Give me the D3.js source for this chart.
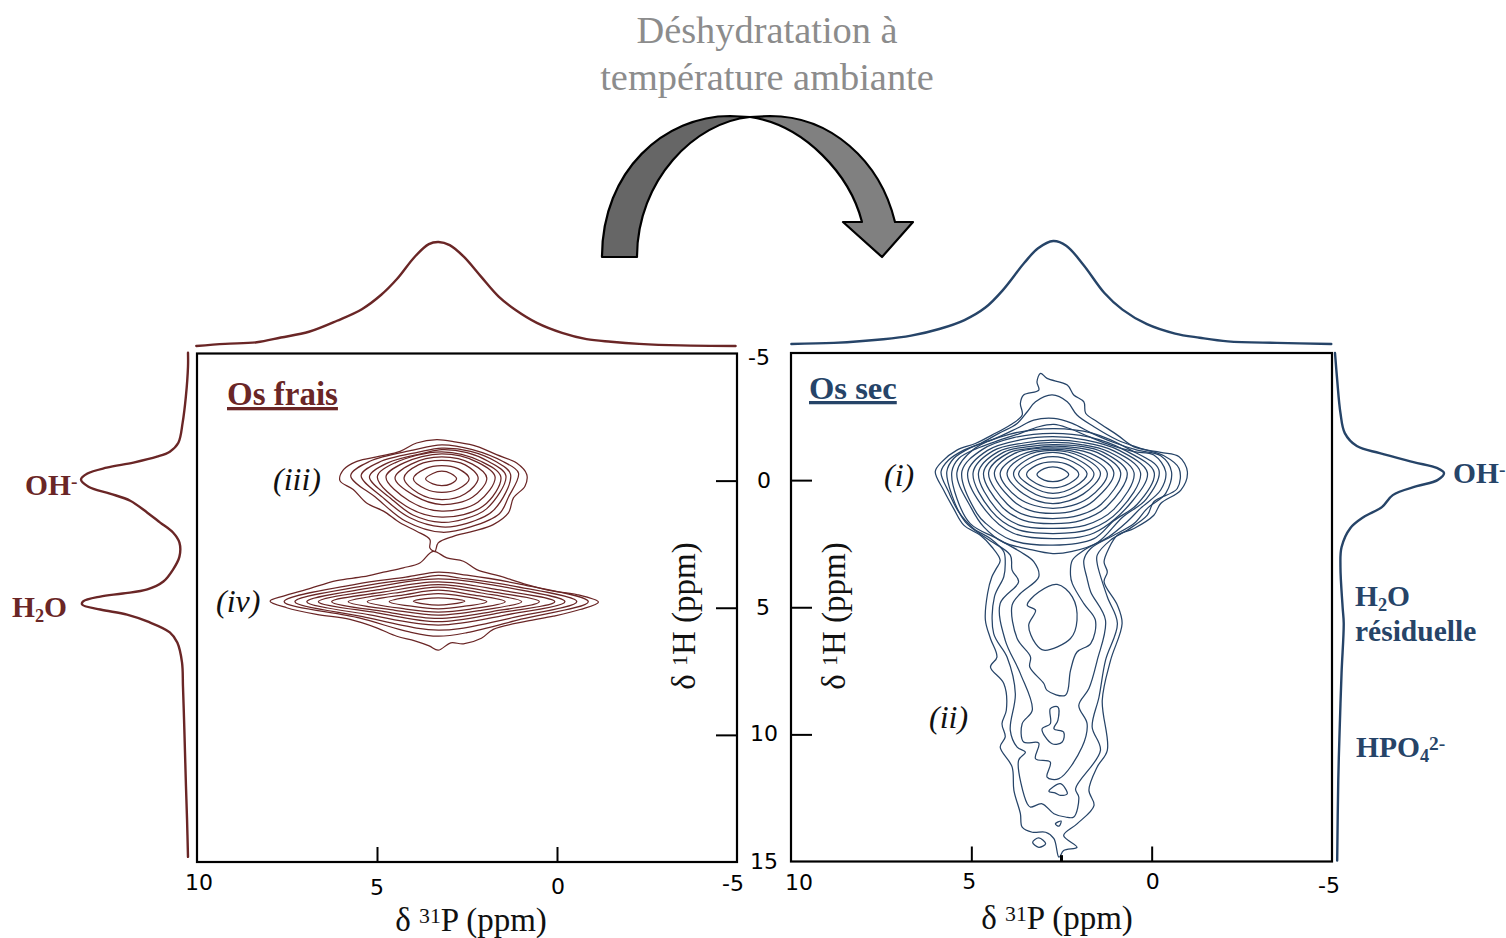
<!DOCTYPE html>
<html lang="fr"><head><meta charset="utf-8">
<script src="https://cdnjs.cloudflare.com/ajax/libs/d3/7.8.5/d3.min.js"></script>
<style>html,body{margin:0;padding:0;background:#fff}svg{display:block}text{font-family:"Liberation Serif",serif}.tl{font-family:"DejaVu Sans",sans-serif;font-size:22px;fill:#000;text-anchor:middle}</style>
</head><body><svg id="c" width="1506" height="938" viewBox="0 0 1506 938"></svg>
<script>
const xTicks=[10,5,0,-5];
const yTicks=[-5,0,5,10,15];

// Projections
const fraisTopP=[10.02,9.22,8.34,7.67,6.89,6.11,5.42,4.89,4.44,3.95,3.56,3.29,2.98,2.59,2.11,1.62,1.14,.56,-.14,-.82,-1.5,-2.28,-3.44,-4.96];
const fraisTopI=[.01,.03,.045,.09,.145,.25,.36,.495,.65,.86,.98,1,.97,.86,.67,.48,.35,.23,.135,.075,.05,.03,.015,.01];
const secTopP=[9.99,8.81,7.44,6.67,5.89,5.19,4.61,4.12,3.53,3.15,2.73,2.37,1.89,1.31,.81,.13,-.65,-1.33,-2.11,-3.47,-4.98];
const secTopI=[.01,.02,.055,.09,.154,.24,.36,.53,.79,.93,1,.955,.77,.5,.34,.2,.11,.07,.035,.02,.01];
const fraisSideH=[-5.03,-4.48,-3.3,-2.28,-1.49,-1.14,-.94,-.71,-.51,-.28,-.04,.24,.51,.79,1.26,1.65,2.04,2.44,2.99,3.5,3.97,4.28,4.44,4.56,4.75,4.87,5.07,5.27,5.54,5.97,6.37,7.15,8.09,9.39,10.69,12.02,13.32,14.8];
const fraisSideI=[0,0,.02,.05,.09,.17,.29,.51,.76,.94,1,.93,.73,.54,.38,.26,.14,.08,.08,.14,.23,.38,.61,.82,.98,.99,.82,.57,.38,.17,.1,.056,.047,.037,.028,.019,.009,0];
const secSideH=[-5,-3.94,-2.64,-1.85,-1.34,-1.06,-.71,-.47,-.28,0,.24,.59,1.06,1.46,1.89,2.64,3.43,5,5.63,7.6,10.2,11.8,14.96];
const secSideI=[0,.02,.05,.09,.2,.41,.72,.94,1,.94,.75,.53,.43,.26,.14,.06,.05,.07,.08,.06,.04,.03,.02];

// Contours, Os frais: [delta 31P, delta 1H]
const contoursIII=[
[[3.65,-.07],[3.45,-.28],[3.2,-.37],[2.95,-.28],[2.79,-.07],[2.95,.13],[3.2,.2],[3.45,.13]],
[[3.99,-.07],[3.65,-.47],[3.2,-.59],[2.75,-.47],[2.44,-.07],[2.75,.33],[3.2,.46],[3.65,.33]],
[[4.25,-.1],[3.85,-.62],[3.2,-.8],[2.55,-.62],[2.19,-.1],[2.55,.52],[3.2,.75],[3.85,.5]],
[[4.5,-.1],[4.05,-.65],[3.2,-.93],[2.35,-.65],[1.95,-.1],[2.35,.65],[3.2,.94],[3.95,.6]],
[[4.75,-.15],[4.25,-.7],[3.2,-1.05],[2.2,-.72],[1.72,-.15],[2.2,.85],[3.2,1.2],[4.1,.8]],
[[4.99,-.15],[4.5,-.7],[3.2,-1.13],[2.1,-.75],[1.56,-.15],[2.05,1],[3.2,1.44],[4.2,1]],
[[5.21,-.15],[4.7,-.7],[3.7,-1.08],[3.2,-1.22],[2.5,-1.1],[1.9,-.75],[1.42,-.2],[1.95,1.1],[2.6,1.52],[3.2,1.64],[4,1.35],[4.6,.72]],
[[5.44,-.2],[4.95,-.72],[3.85,-1.12],[3.2,-1.28],[2.4,-1.15],[1.7,-.75],[1.29,-.25],[1.75,1.15],[2.5,1.68],[3.2,1.82],[4.1,1.45],[4.85,.65]],
[[5.73,-.2],[5.2,-.76],[4,-1.2],[3.2,-1.41],[2.35,-1.22],[1.5,-.75],[1.07,-.3],[1.35,.65],[1.6,1.3],[2.4,1.82],[3.2,2.03],[4.2,1.6],[5,.7]],
[[6.03,0],[5.93,-.43],[5.56,-.76],[4.92,-.96],[4.36,-1.15],[3.9,-1.48],[3.34,-1.61],[2.79,-1.51],[2.23,-1.35],[1.68,-1.02],[1.12,-.69],[.84,-.24],[.89,.22],[1.21,.68],[1.35,1.27],[1.77,1.73],[2.32,1.99],[2.88,2.19],[3.3,2.45],[3.39,2.78],[3.53,2.65],[3.53,2.32],[3.9,1.99],[4.36,1.66],[4.82,1.2],[5.29,.88],[5.66,.35]]
];
const contoursIV=[
[[3.99,4.74],[3.65,4.64],[3.3,4.61],[2.95,4.64],[2.56,4.74],[2.95,4.86],[3.3,4.9],[3.65,4.86]],
[[4.66,4.76],[4,4.55],[3.3,4.44],[2.6,4.55],[1.95,4.76],[2.6,4.95],[3.3,5.04],[4,4.95]],
[[5.27,4.76],[4.2,4.48],[3.3,4.31],[2.4,4.48],[1.44,4.76],[2.4,5.05],[3.3,5.17],[4.2,5.05]],
[[5.8,4.76],[4.5,4.42],[3.3,4.19],[2.1,4.42],[.98,4.76],[2.1,5.1],[3.3,5.29],[4.5,5.1]],
[[6.26,4.76],[4.8,4.38],[3.3,4.09],[1.8,4.38],[.49,4.76],[1.8,5.15],[3.3,5.42],[4.8,5.15]],
[[6.63,4.76],[5,4.3],[3.3,3.98],[1.6,4.3],[.06,4.76],[1.6,5.2],[3.3,5.55],[5,5.2]],
[[6.95,4.76],[5.2,4.22],[3.3,3.86],[1.4,4.2],[-.22,4.76],[1.4,5.28],[3.3,5.68],[5.2,5.28]],
[[7.28,4.76],[5.4,4.15],[3.9,3.85],[3.3,3.73],[2.7,3.83],[1.2,4.15],[-.55,4.76],[1.2,5.38],[2.7,5.82],[3.3,5.88],[3.9,5.8],[5.4,5.35]],
[[7.58,4.76],[5.6,4.08],[4.2,3.8],[3.3,3.6],[2.5,3.72],[1,4.08],[-.87,4.76],[1,5.45],[2.5,5.98],[3.3,6.12],[4.1,5.95],[5.5,5.4]],
[[7.97,4.74],[7.6,4.54],[6.95,4.28],[6.12,3.93],[5.38,3.78],[4.82,3.6],[4.27,3.43],[3.81,3.24],[3.44,2.78],[3.06,3.04],[2.6,3.17],[2.23,3.5],[1.58,3.76],[.84,4.09],[.1,4.35],[-.55,4.48],[-1.15,4.78],[-.64,5.07],[.1,5.33],[.84,5.53],[1.77,5.85],[2.1,6.2],[2.6,6.42],[2.95,6.38],[3.3,6.67],[3.55,6.5],[3.95,6.3],[4.45,6.12],[5.01,5.79],[5.75,5.46],[6.68,5.26],[7.51,5]]
];

// Contours, Os sec: [delta 31P, delta 1H]
const contoursI=[
[[3.18,-.22],[2.98,-.45],[2.74,-.52],[2.5,-.45],[2.3,-.22],[2.5,0],[2.74,.06],[2.98,0]],
[[3.47,-.22],[3.2,-.58],[2.74,-.72],[2.28,-.58],[2.02,-.22],[2.28,.13],[2.74,.3],[3.2,.13]],
[[3.69,-.25],[3.3,-.72],[2.74,-.92],[2.18,-.72],[1.79,-.25],[2.15,.27],[2.74,.52],[3.3,.27]],
[[3.83,-.25],[3.4,-.85],[2.74,-1.09],[2.1,-.85],[1.6,-.25],[2.05,.42],[2.74,.72],[3.4,.42]],
[[4.01,-.27],[3.55,-.92],[2.74,-1.17],[1.95,-.92],[1.42,-.27],[1.9,.55],[2.74,.92],[3.55,.55]],
[[4.2,-.27],[3.65,-.98],[2.74,-1.22],[1.85,-.98],[1.23,-.27],[1.75,.7],[2.74,1.11],[3.7,.7]],
[[4.36,-.3],[3.8,-1.05],[2.74,-1.27],[1.7,-1.05],[1.05,-.3],[1.6,.8],[2.1,1.18],[2.74,1.31],[3.4,1.18],[3.85,.8]],
[[4.52,-.3],[3.95,-1.08],[3.3,-1.26],[2.74,-1.34],[2.1,-1.28],[1.5,-1.08],[.86,-.3],[1.4,.95],[2,1.38],[2.74,1.51],[3.5,1.38],[4,.95]],
[[4.66,-.3],[4.1,-1.1],[3.4,-1.32],[2.74,-1.4],[2,-1.34],[1.35,-1.1],[.68,-.3],[1.25,1.05],[1.95,1.58],[2.74,1.71],[3.55,1.58],[4.15,1.05]],
[[4.8,-.3],[4.25,-1.12],[3.5,-1.38],[2.74,-1.48],[1.95,-1.4],[1.2,-1.12],[.49,-.3],[1.05,1.15],[1.85,1.78],[2.74,1.9],[3.65,1.78],[4.3,1.15]],
[[4.95,-.3],[4.4,-1.15],[3.55,-1.46],[2.74,-1.57],[1.9,-1.48],[1.05,-1.15],[.31,-.3],[.9,1.2],[1.7,1.93],[2.74,2.1],[3.75,1.93],[4.45,1.2]],
[[5.1,-.3],[4.55,-1.17],[3.65,-1.58],[2.74,-1.71],[1.85,-1.58],[.9,-1.17],[.12,-.3],[.55,.85],[1.6,2.08],[2.74,2.3],[3.85,2.08],[4.6,1.2]],
[[5.26,-.35],[4.7,-1.2],[3.8,-1.68],[2.74,-1.84],[1.75,-1.7],[.75,-1.18],[-.07,-.3],[.4,.95],[1.05,1.6],[1.6,2.3],[2.74,2.56],[3.9,2.35],[4.6,1.7],[4.85,1.3]],
[[5.4,-.3],[4.9,-1.25],[3.95,-1.8],[2.74,-2.03],[1.65,-1.85],[.6,-1.2],[-.2,-.4],[.15,.75],[.8,1.45],[1.5,2.45],[2.2,2.8],[2.74,2.89],[3.45,2.7],[4.1,2.45],[4.65,1.85],[5,1.1]]
];
const contoursII=[
[[5.54,-.33],[5.35,-.85],[4.89,-1.22],[4.2,-1.58],[3.64,-1.84],[3.13,-2.1],[2.71,-2.19],[2.3,-2.04],[1.74,-1.71],[1.14,-1.38],[.49,-1.12],[-.06,-.99],[-.39,-.33],[-.25,.39],[.31,1.11],[.68,1.64],[1.19,2.23],[1.88,2.76],[2.2,3.15],[2.25,3.74],[2.2,4.07],[1.88,4.86],[1.56,5.51],[1.69,6.43],[2.07,6.76],[2.25,7.48],[2.39,8.46],[2.9,8.27],[2.99,8],[3.38,7.35],[3.36,6.95],[3.73,6.23],[3.87,4.92],[3.64,4.46],[3.13,3.8],[3.27,3.21],[3.64,2.82],[4.29,2.3],[5.03,1.71],[5.4,.72]],
[[5.68,-.33],[5.49,-.85],[5.03,-1.27],[4.38,-1.61],[3.73,-2.04],[3.27,-2.36],[2.71,-2.43],[2.2,-2.23],[1.65,-1.84],[1.05,-1.48],[.4,-1.18],[-.25,-.96],[-.55,-.33],[-.39,.52],[.12,1.11],[.49,1.71],[1.05,2.17],[1.69,2.69],[1.88,3.15],[1.79,3.87],[1.69,4.4],[1.28,5.51],[1.51,7.09],[1.74,8.2],[2.02,8.86],[1.79,9.58],[1.93,10.5],[2.57,11.74],[2.9,11.68],[2.81,11.09],[3.22,10.96],[3.13,10.34],[3.55,10.3],[3.59,9.58],[3.31,9.05],[3.64,7.61],[4.06,6.3],[4.2,4.85],[3.69,4],[3.87,3.54],[3.92,2.95],[4.57,2.3],[5.17,1.64],[5.54,.59]],
[[5.84,-.33],[5.63,-.79],[5.21,-1.18],[4.75,-1.44],[4.24,-1.84],[3.73,-2.23],[3.45,-2.69],[3.22,-3.08],[2.76,-3.35],[2.34,-3.08],[2.07,-2.56],[1.6,-2.1],[.95,-1.58],[.31,-1.25],[-.34,-.96],[-.76,-.46],[-.71,.33],[-.06,.85],[.12,1.38],[.68,1.97],[1.14,2.36],[1.51,2.95],[1.51,3.28],[1.23,4.59],[.95,5.64],[1.28,7.09],[1.46,8.53],[1.65,9.71],[1.42,10.63],[2.11,12.14],[2.02,12.47],[2.16,13.25],[2.39,13.25],[2.71,13.12],[3.04,12.73],[3.36,12.86],[3.45,12.73],[3.69,11.02],[3.5,10.7],[3.73,10.5],[3.92,9.84],[3.78,8.4],[4.01,6.96],[4.38,6.04],[4.36,4.59],[4.1,3.8],[4.06,3.28],[4.1,2.82],[4.47,2.3],[4.94,1.9],[5.35,1.25],[5.63,.46]],
[[6,-.33],[5.82,-.72],[5.4,-1.18],[4.89,-1.44],[4.43,-1.77],[3.92,-2.17],[3.59,-2.56],[3.64,-3.02],[3.55,-3.35],[3.13,-3.54],[3.18,-3.87],[3.08,-4.2],[2.9,-4],[2.34,-3.74],[2.16,-3.35],[1.88,-3.08],[1.83,-2.63],[1.51,-2.3],[.95,-1.77],[.49,-1.31],[-.25,-1.09],[-.76,-.92],[-.99,-.33],[-.81,.39],[-.25,.92],[-.06,1.38],[.49,1.9],[.95,2.17],[1.19,2.69],[1.32,3.22],[1.23,3.61],[1.32,4],[.95,4.92],[.82,5.64],[1.14,7.09],[1.37,8.66],[1.23,10.63],[1.51,11.28],[1.74,12.2],[1.6,12.8],[2.07,13.52],[2.44,13.98],[2.07,14.44],[2.44,14.57],[2.57,14.83],[2.71,14.1],[2.94,13.85],[3.31,13.85],[3.59,13.65],[3.64,13.12],[3.82,12.2],[3.87,11.28],[4.2,10.5],[4.06,10.1],[4.15,9.58],[4.03,9.05],[4.1,8],[4.47,7.35],[4.29,6.96],[4.47,6.23],[4.61,5.51],[4.55,4.46],[4.43,3.8],[4.31,3.48],[4.2,3.15],[4.43,2.63],[4.75,2.17],[5.21,1.77],[5.49,1.12],[5.77,.39]],
[[3.45,4.92],[3.22,5.12],[3.41,5.71],[3.22,6.43],[2.99,6.69],[2.25,6.23],[2.07,5.51],[2.2,4.59],[2.62,4.1],[3.13,4.4]],
[[2.81,8.99],[2.6,8.92],[2.6,9.45],[2.71,9.78],[2.44,9.91],[2.48,10.3],[2.76,10.37],[3.04,9.78],[2.81,9.58]],
[[2.85,12.24],[2.53,11.94],[2.34,12.34],[2.53,12.4],[2.68,12.3]],
[[2.67,13.52],[2.51,13.41],[2.57,13.61]],
[[3.3,14.24],[3.13,14.07],[2.94,14.3],[3.13,14.44]]
];

const RED="#6a2626",BLUE="#264468";
const svg=d3.select("#c");

const xL=d3.scaleLinear().domain([10,-5]).range([197,737]);
const xR=d3.scaleLinear().domain([10,-5]).range([791,1332]);
const yL=d3.scaleLinear().domain([-5,15]).range([353.5,862]);
const yR=d3.scaleLinear().domain([-5,15]).range([353,861.5]);
const topL=d3.scaleLinear().domain([0,1]).range([347,242]);
const topR=d3.scaleLinear().domain([0,1]).range([345,241]);
const sideL=d3.scaleLinear().domain([0,1]).range([188,81]);
const sideR=d3.scaleLinear().domain([0,1]).range([1335,1444]);

const ring=(x,y)=>d3.line().x(d=>x(d[0])).y(d=>y(d[1])).curve(d3.curveCatmullRomClosed.alpha(.5));
const openC=d3.curveCatmullRom.alpha(.5);

function contours(data,x,y,col){
  svg.append("g").selectAll("path").data(data).join("path")
    .attr("d",ring(x,y)).attr("fill","none").attr("stroke",col).attr("stroke-width",1.25);
}
contours(contoursIII,xL,yL,RED);
contours(contoursIV,xL,yL,RED);
contours(contoursI,xR,yR,BLUE);
contours(contoursII,xR,yR,BLUE);

function proj(a,b,lineGen,col){
  svg.append("path").datum(d3.zip(a,b)).attr("d",lineGen).attr("fill","none").attr("stroke",col).attr("stroke-width",2.4).attr("stroke-linecap","round");
}
proj(fraisTopP,fraisTopI,d3.line().x(d=>xL(d[0])).y(d=>topL(d[1])).curve(openC),RED);
proj(secTopP,secTopI,d3.line().x(d=>xR(d[0])).y(d=>topR(d[1])).curve(openC),BLUE);
proj(fraisSideH,fraisSideI,d3.line().x(d=>sideL(d[1])).y(d=>yL(d[0])).curve(openC),RED);
proj(secSideH,secSideI,d3.line().x(d=>sideR(d[1])).y(d=>yR(d[0])).curve(openC),BLUE);

// Frames
[[xL,yL],[xR,yR]].forEach(([x,y])=>{
  svg.append("rect").attr("x",x(10)).attr("y",y(-5)).attr("width",x(-5)-x(10)).attr("height",y(15)-y(-5))
    .attr("fill","none").attr("stroke","#000").attr("stroke-width",2.2);
});

// Axes (tick marks)
function axis(gen,tx,ty){
  const g=svg.append("g").attr("transform",`translate(${tx},${ty})`).call(gen);
  g.select(".domain").remove();
  g.selectAll("text").remove();
  g.selectAll("line").attr("stroke","#000").attr("stroke-width",2);
}
const inner=v=>v!==10&&v!==-5;
const inY=v=>v!==-5&&v!==15;
axis(d3.axisBottom(xL).tickValues(xTicks.filter(inner)).tickSize(-15),0,862);
axis(d3.axisBottom(xR).tickValues(xTicks.filter(inner)).tickSize(-15),0,861.5);
axis(d3.axisLeft(yL).tickValues(yTicks.filter(inY)).tickSize(21),737,0);
axis(d3.axisRight(yR).tickValues(yTicks.filter(inY)).tickSize(21),791,0);
// short mark at foot of the lowest contour
svg.append("line").attr("x1",xR(2.5)).attr("x2",xR(2.5)).attr("y1",yR(14.75)).attr("y2",yR(15)).attr("stroke","#000").attr("stroke-width",3);

// Tick labels
const xOffL={"10":[2,28],"5":[0,33],"0":[1,32],"-5":[-4,29]};
const xOffR={"10":[8,29],"5":[-2,28],"0":[1,28],"-5":[-3,32]};
xTicks.forEach(v=>{
  svg.append("text").attr("class","tl").attr("x",xL(v)+xOffL[v][0]).attr("y",862+xOffL[v][1]).text(v);
  svg.append("text").attr("class","tl").attr("x",xR(v)+xOffR[v][0]).attr("y",861+xOffR[v][1]).text(v);
});
const yOff={"-5":[-5,11],"0":[0,7],"5":[-1,7],"10":[0,6],"15":[0,7]};
yTicks.forEach(v=>{
  svg.append("text").attr("class","tl").attr("x",764+yOff[v][0]).attr("y",yL(v)+yOff[v][1]).text(v);
});

// Axis titles
function sup(t,parts,attrs){
  const el=svg.append("text");
  Object.entries(attrs).forEach(([k,v])=>el.attr(k,v));
  parts.forEach(([s,kind])=>{
    const ts=el.append("tspan").text(s);
    if(kind==="sup")ts.attr("dy","-0.38em").attr("font-size","0.66em");
    if(kind==="sub")ts.attr("dy","0.25em").attr("font-size","0.62em");
    if(kind==="back-sup")ts.attr("dy","0.25em");
    if(kind==="back-sub")ts.attr("dy","-0.155em");
  });
  return el;
}
const T={"font-size":33,"fill":"#111","text-anchor":"middle"};
sup(0,[["δ "],["31","sup"],["P (ppm)","back-sup"]],{...T,x:471,y:931});
sup(0,[["δ "],["31","sup"],["P (ppm)","back-sup"]],{...T,x:1057,y:929});
sup(0,[["δ "],["1","sup"],["H (ppm)","back-sup"]],{...T,transform:"translate(695,616) rotate(-90)"});
sup(0,[["δ "],["1","sup"],["H (ppm)","back-sup"]],{...T,transform:"translate(845,616) rotate(-90)"});

// Panel titles
svg.append("text").attr("x",227).attr("y",405).attr("font-size",33).attr("font-weight","bold").attr("fill",RED).attr("text-decoration","underline").text("Os frais");
svg.append("text").attr("x",809).attr("y",399).attr("font-size",32.6).attr("font-weight","bold").attr("fill",BLUE).attr("text-decoration","underline").text("Os sec");

// Region labels
[["(iii)",273,490],["(iv)",216,612],["(i)",884,486],["(ii)",929,728]].forEach(([s,x,y])=>{
  svg.append("text").attr("x",x).attr("y",y).attr("font-size",32).attr("font-style","italic").attr("fill","#111").text(s);
});

// Peak labels
const B={"font-size":29.5,"font-weight":"bold"};
sup(0,[["OH"],["-","sup"]],{...B,fill:RED,x:25,y:495});
sup(0,[["H"],["2","sub"],["O","back-sub"]],{...B,fill:RED,x:12,y:617});
sup(0,[["OH"],["-","sup"]],{...B,fill:BLUE,x:1453,y:483});
sup(0,[["H"],["2","sub"],["O","back-sub"]],{...B,fill:BLUE,x:1355,y:606});
sup(0,[["résiduelle"]],{...B,fill:BLUE,x:1355,y:641});
sup(0,[["HPO"],["4","sub"],["2-","sup2"]],{...B,fill:BLUE,x:1356,y:757}).select("tspan:last-child").attr("dy","-0.6em").attr("font-size","0.66em");

// Title
[["Déshydratation à",43],["température ambiante",90]].forEach(([s,y])=>{
  svg.append("text").attr("x",767).attr("y",y).attr("text-anchor","middle").attr("font-size",38.4).attr("fill","#8c8c8c").text(s);
});

// Curved arrow
svg.append("path").attr("d","M602,257 C602,170 665,116 730,116 L750,117 C695,122 637,180 637,257 Z").attr("fill","#666").attr("stroke","#000").attr("stroke-width",2.2).attr("stroke-linejoin","round");
svg.append("path").attr("d","M750,117 L770,116 C830,116 880,160 895,222 L913,222 L882,257 L843,222 L862,222 C850,175 805,125 750,117 Z").attr("fill","#808080").attr("stroke","#000").attr("stroke-width",2.2).attr("stroke-linejoin","round");
</script></body></html>
